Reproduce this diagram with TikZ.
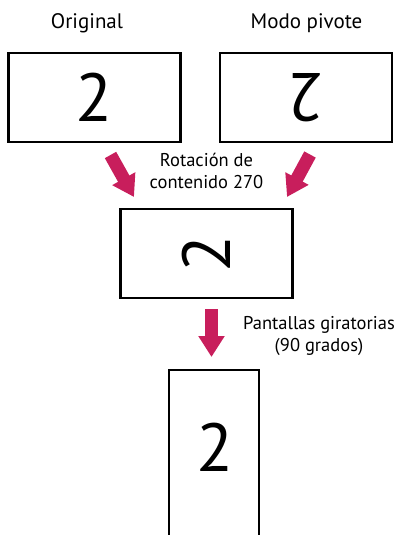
\documentclass[tikz,border=0pt]{standalone}
\usepackage{fontspec}
\setmainfont{PT Sans}
\usetikzlibrary{arrows.meta}
\definecolor{arrowred}{RGB}{200,30,92}
\begin{document}
\begin{tikzpicture}[x=1pt,y=-1pt,
  box/.style={draw=black, line width=2.4pt, minimum width=172pt, minimum height=89pt, inner sep=0pt},
  digit/.style={font=\fontsize{68}{68}\selectfont, inner sep=0pt},
  headtext/.style={font=\fontsize{21}{25}\selectfont, anchor=base, inner sep=0pt},
  caption/.style={font=\fontsize{18.5}{21.5}\selectfont, align=center, inner sep=0pt},
  bigarrow/.style={draw=arrowred, line width=13pt, -{Triangle[width=25pt,length=21pt]}}]
\useasboundingbox (0,0) rectangle (395,535);
\clip (0,0) rectangle (395,535);
% titles
\node[headtext] (t1) at (87,29) {Original};
\node[headtext] (t2) at (306.5,29) {Modo pivote};
% boxes
\node[box] (b1) at (94.5,97.5) {};
\node[box] (b2) at (306,97.5) {};
\node[box] (b3) at (206.5,253.5) {};
\node[box, minimum width=90pt, minimum height=200pt, anchor=north] (b4) at (214,369) {};
% digits
\node[digit] (d1) at (b1.center) {2};
\node[digit, rotate=180] (d2) at (b2.center) {2};
\node[digit, rotate=90] (d3) at (b3.center) {2};
\node[digit] (d4) at (215,447.5) {2};
% captions
\node[caption] (c1) at (206.5,171) {Rotación de\\contenido 270};
\node[caption] (c2) at (319,336) {Pantallas giratorias\\(90 grados)};
% arrows
\coordinate (a1s) at (110.5,155);
\coordinate (a1e) at (134,197);
\coordinate (a2s) at (310,154.5);
\coordinate (a2e) at (287,197);
\coordinate (a3s) at (211.5,309);
\coordinate (a3e) at (211.5,357);
\draw[bigarrow] (a1s) -- (a1e);
\draw[bigarrow] (a2s) -- (a2e);
\draw[bigarrow] (a3s) -- (a3e);
\end{tikzpicture}
\end{document}
